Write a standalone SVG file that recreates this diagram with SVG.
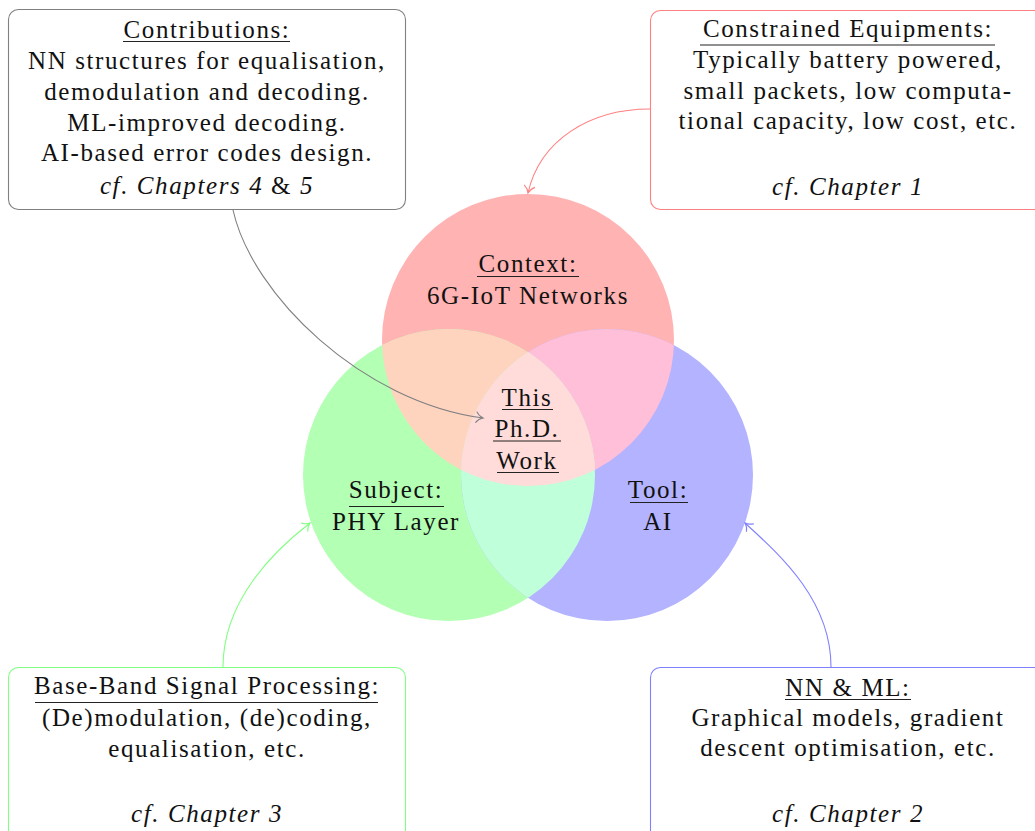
<svg xmlns="http://www.w3.org/2000/svg" width="1035" height="831" viewBox="0 0 1035 831" font-family="Liberation Serif, Times New Roman, serif">
  <style>
    text { font-size: 25px; letter-spacing: 1.6px; fill: #111; text-anchor: middle; }
    .it { font-style: italic; }
    .rm { font-style: normal; }
    .ul { stroke: #222; stroke-width: 1.2; }
    .box { fill: #fff; stroke-width: 1.1; }
    .conn { fill: none; stroke-width: 1.1; }
  </style>
  <defs>
    <clipPath id="clipRed"><circle cx="528" cy="340" r="146"/></clipPath>
    <clipPath id="clipGreen"><circle cx="449" cy="475" r="146"/></clipPath>
    <marker id="tipGray" markerWidth="14" markerHeight="14" refX="0" refY="0" viewBox="-10 -7 14 14" orient="auto" markerUnits="userSpaceOnUse">
      <path d="M-7,-5.5 C-5,-2.5 -2,-0.6 0,0 C-2,0.6 -5,2.5 -7,5.5" fill="none" stroke="#808080" stroke-width="1.1"/>
    </marker>
    <marker id="tipRed" markerWidth="14" markerHeight="14" refX="0" refY="0" viewBox="-10 -7 14 14" orient="auto" markerUnits="userSpaceOnUse">
      <path d="M-7,-5.5 C-5,-2.5 -2,-0.6 0,0 C-2,0.6 -5,2.5 -7,5.5" fill="none" stroke="#ff8080" stroke-width="1.1"/>
    </marker>
    <marker id="tipGreen" markerWidth="14" markerHeight="14" refX="0" refY="0" viewBox="-10 -7 14 14" orient="auto" markerUnits="userSpaceOnUse">
      <path d="M-7,-5.5 C-5,-2.5 -2,-0.6 0,0 C-2,0.6 -5,2.5 -7,5.5" fill="none" stroke="#80ff80" stroke-width="1.1"/>
    </marker>
    <marker id="tipBlue" markerWidth="14" markerHeight="14" refX="0" refY="0" viewBox="-10 -7 14 14" orient="auto" markerUnits="userSpaceOnUse">
      <path d="M-7,-5.5 C-5,-2.5 -2,-0.6 0,0 C-2,0.6 -5,2.5 -7,5.5" fill="none" stroke="#8080ff" stroke-width="1.1"/>
    </marker>
  </defs>

  <rect width="1035" height="831" fill="#fff"/>

  <!-- Venn diagram: three circles and their overlaps -->
  <g id="venn">
    <circle cx="528" cy="340" r="146" fill="#ffb3b3"/>
    <circle cx="449" cy="475" r="146" fill="#b3ffb3"/>
    <circle cx="607" cy="475" r="146" fill="#b3b3ff"/>
    <circle cx="449" cy="475" r="146" fill="#ffd4bf" clip-path="url(#clipRed)"/>
    <circle cx="607" cy="475" r="146" fill="#ffbfd9" clip-path="url(#clipRed)"/>
    <circle cx="607" cy="475" r="146" fill="#bfffd9" clip-path="url(#clipGreen)"/>
    <g clip-path="url(#clipRed)">
      <circle cx="607" cy="475" r="146" fill="#ffdcd9" clip-path="url(#clipGreen)"/>
    </g>
  </g>

  <g id="context">
    <text x="528" y="272">Context:</text>
    <line class="ul" x1="477" y1="276.5" x2="579" y2="276.5"/>
    <text x="528" y="304">6G-IoT Networks</text>
  </g>

  <g id="subject">
    <text x="396" y="498">Subject:</text>
    <line class="ul" x1="349" y1="506.5" x2="444" y2="506.5"/>
    <text x="396" y="530">PHY Layer</text>
  </g>

  <g id="tool">
    <text x="658" y="498">Tool:</text>
    <line class="ul" x1="630" y1="502.5" x2="688" y2="502.5"/>
    <text x="658" y="530">AI</text>
  </g>

  <g id="thesis">
    <text x="527" y="406">This</text>
    <line class="ul" x1="502" y1="409.5" x2="553" y2="409.5"/>
    <text x="527" y="437">Ph.D.</text>
    <line class="ul" x1="493" y1="441" x2="561" y2="441"/>
    <text x="527" y="469">Work</text>
    <line class="ul" x1="497" y1="472.5" x2="559" y2="472.5"/>
  </g>

  <!-- Callout boxes -->
  <g id="contributions">
    <rect class="box" x="8.5" y="9.5" width="397" height="200" rx="10" stroke="#808080"/>
    <text x="207" y="38">Contributions:</text>
    <line class="ul" x1="123" y1="41.5" x2="290" y2="41.5"/>
    <text x="207" y="69">NN structures for equalisation,</text>
    <text x="207" y="100">demodulation and decoding.</text>
    <text x="207" y="131">ML-improved decoding.</text>
    <text x="207" y="161">AI-based error codes design.</text>
    <text x="207" y="194" class="it">cf.  Chapters 4 <tspan class="rm">&amp;</tspan> 5</text>
  </g>

  <g id="constrained">
    <rect class="box" x="650.5" y="10.5" width="397" height="199" rx="10" stroke="#ff8080"/>
    <text x="848" y="37">Constrained Equipments:</text>
    <line class="ul" x1="700" y1="45" x2="995" y2="45"/>
    <text x="848" y="68">Typically battery powered,</text>
    <text x="848" y="99">small packets, low computa-</text>
    <text x="848" y="129">tional capacity, low cost, etc.</text>
    <text x="848" y="195" class="it">cf. Chapter 1</text>
  </g>

  <g id="baseband">
    <rect class="box" x="8.5" y="667.5" width="397" height="200" rx="10" stroke="#80ff80"/>
    <text x="207" y="694">Base-Band Signal Processing:</text>
    <line class="ul" x1="35" y1="702.5" x2="378" y2="702.5"/>
    <text x="207" y="726">(De)modulation, (de)coding,</text>
    <text x="207" y="757">equalisation, etc.</text>
    <text x="207" y="822" class="it">cf. Chapter 3</text>
  </g>

  <g id="nnml">
    <rect class="box" x="650.5" y="667.5" width="397" height="200" rx="10" stroke="#8080ff"/>
    <text x="848" y="696">NN &amp; ML:</text>
    <line class="ul" x1="785" y1="699.5" x2="911" y2="699.5"/>
    <text x="848" y="726">Graphical models, gradient</text>
    <text x="848" y="756">descent optimisation, etc.</text>
    <text x="848" y="822" class="it">cf. Chapter 2</text>
  </g>

  <!-- Connectors -->
  <g id="connectors">
    <path class="conn" d="M233,210 C252,295 362,402 483,418" stroke="#808080" marker-end="url(#tipGray)"/>
    <path class="conn" d="M650,109 C590,109 540,140 528,193" stroke="#ff8080" marker-end="url(#tipRed)"/>
    <path class="conn" d="M223,667 C223,600 275,550 310,523" stroke="#80ff80" marker-end="url(#tipGreen)"/>
    <path class="conn" d="M831,667 C831,600 780,555 745,523" stroke="#8080ff" marker-end="url(#tipBlue)"/>
  </g>
</svg>
